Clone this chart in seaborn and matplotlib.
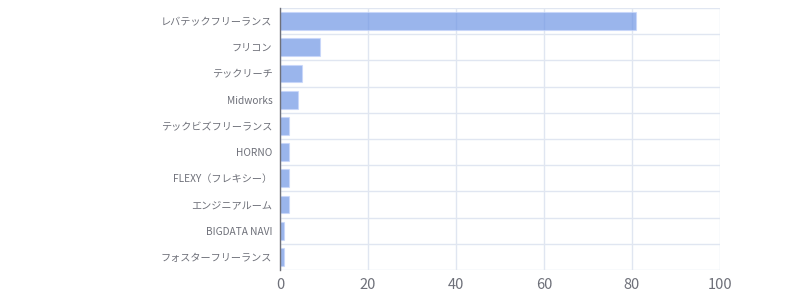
import matplotlib
matplotlib.use("Agg")
import matplotlib.pyplot as plt
import seaborn as sns
import pandas as pd
import numpy as np

categories = ["レバテックフリーランス", "フリコン", "テックリーチ", "Midworks",
              "テックビズフリーランス", "HORNO", "FLEXY（フレキシー）",
              "エンジニアルーム", "BIGDATA NAVI", "フォスターフリーランス"]
values = [81, 9, 5, 4, 2, 2, 2, 2, 1, 1]
x_ticks = [0, 20, 40, 60, 80, 100]

sns.set_theme(style="white")
plt.rcParams['font.family'] = ['Noto Sans CJK JP', 'DejaVu Sans']

df = pd.DataFrame({"name": categories, "value": values})

fig = plt.figure(figsize=(8, 3), dpi=100)
ax = fig.add_axes([0.35, 0.1, 0.55, 0.873])

sns.barplot(data=df, y="name", x="value", orient="h", ax=ax,
            color="#5b8ff9", alpha=0.7, width=0.68,
            edgecolor="#c7d6fb", linewidth=0.8, zorder=3)

n = len(categories)
ax.set_xlim(0, 100)
ax.set_ylim(n - 0.5, -0.5)
ax.set_xticks(x_ticks)
ax.set_xticklabels([str(t) for t in x_ticks], color="#6e7079", fontsize=10.5)
ax.set_yticks(range(n))
ax.set_yticklabels(categories, color="#6e7079", fontsize=7.3)
ax.set_yticks(np.arange(-0.5, n, 1.0), minor=True)
ax.tick_params(axis="y", which="major", length=0, pad=5.5)
ax.tick_params(axis="y", which="minor", length=5, width=1, color="#6e7079")
ax.tick_params(axis="x", which="major", length=0, pad=6)
ax.set_xlabel("")
ax.set_ylabel("")

ax.grid(False)
ax.xaxis.grid(True, which="major", color="#e0e6f1", linewidth=1, zorder=0)
ax.yaxis.grid(True, which="minor", color="#e0e6f1", linewidth=1, zorder=0)
ax.set_axisbelow(True)

for s in ["top", "right", "bottom"]:
    ax.spines[s].set_visible(False)
ax.spines["left"].set_color("#6e7079")
ax.spines["left"].set_linewidth(1)
ax.spines["left"].set_zorder(5)

fig.savefig("out.png", dpi=100, facecolor="white")
